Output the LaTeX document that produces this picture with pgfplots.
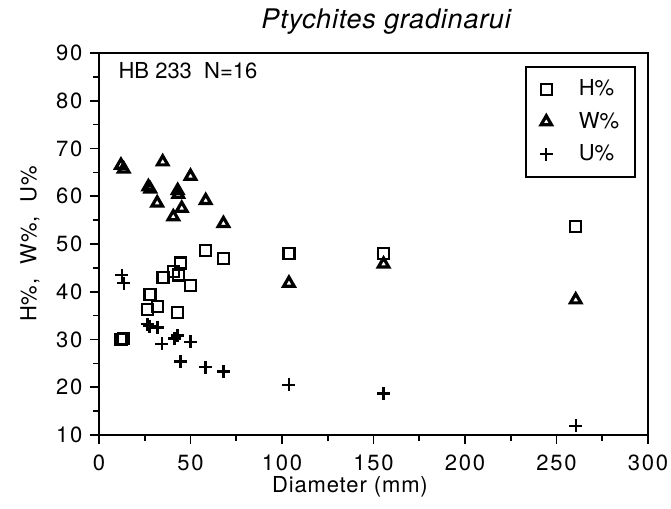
\documentclass[border=0pt]{standalone}
\usepackage{fontspec}
\setmainfont{TeX Gyre Heros}
\usepackage{pgfplots}
\pgfplotsset{compat=1.18}
\begin{document}
\fontsize{22}{26}\selectfont
\begin{tikzpicture}
\begin{axis}[
  scale only axis, width=549pt, height=382pt,
  xmin=0, xmax=300, ymin=10, ymax=90,
  xtick={0,50,...,300}, ytick={10,20,...,90},
  minor x tick num=1, minor y tick num=1,
  axis line style={line width=1.6pt},
  every tick/.style={line width=1.6pt, black},
  tick align=outside, tick pos=left,
  major tick length=9pt, minor tick length=6pt,
  /pgf/number format/assume math mode=true,
  ticklabel style={font=\fontsize{22}{26}\selectfont\addfontfeatures{LetterSpace=8}},
  xticklabel style={yshift=-3pt},
  clip=false,
  legend cell align=left,
  legend style={at={(0.978,0.966)}, anchor=north east, draw=black, line width=1.6pt,
    font=\fontsize{22}{26}\selectfont, inner xsep=14pt, inner ysep=11pt,
    row sep=9pt, /tikz/every odd column/.append style={column sep=24pt}},
]
\addplot[only marks, mark=square, mark size=5.5pt, mark options={line width=2.2pt, black}]
 coordinates {(12,30) (13.5,30.2) (26.4,36.3) (27.9,39.4) (32,36.9) (35,43) (40.5,44.3)
 (43,35.6) (43.5,43.5) (44.6,46) (50,41.3) (58,48.6) (68,47) (103.8,48) (155.5,48) (260.5,53.6)};
\addlegendentry{H\%}
\addplot[only marks, mark=triangle, mark size=6pt, mark options={line width=3.2pt, black, line join=miter}]
 coordinates {(12,66.5) (13.5,65.7) (27,62) (28,61.5) (31.8,58.6) (34.8,67.2) (40.6,55.7)
 (43,61.2) (43.3,60.4) (45.2,57.5) (50,64.2) (58.3,59.1) (68,54.3) (103.8,41.8) (155.5,45.8) (260.5,38.3)};
\addlegendentry{W\%}
\addplot[only marks, mark=+, mark size=6.5pt, mark options={line width=2.4pt, black}]
 coordinates {(12.5,43.5) (13.5,41.8) (26.4,33.2) (27.5,32.8) (32,32.5) (34.4,29.1) (41.2,30.2)
 (43,30.8) (44.6,25.4) (50,29.5) (58.3,24.2) (68,23.3) (103.8,20.5) (155.5,18.7) (260.5,11.9)};
\addlegendentry{U\%}
\node[anchor=west] at (rel axis cs:0.022,0.955) {HB 233\ \ N=16};
\node[font=\fontsize{27}{32}\selectfont\itshape\addfontfeatures{LetterSpace=3}] at ([yshift=31pt]rel axis cs:0.523,1) {Ptychites gradinarui};
\node[font=\fontsize{22}{26}\selectfont\addfontfeatures{LetterSpace=4}] at ([yshift=-52pt]rel axis cs:0.457,0) {Diameter (mm)};
\node[rotate=90, font=\fontsize{22}{26}\selectfont\addfontfeatures{LetterSpace=4}] at ([xshift=-69pt]rel axis cs:0,0.5) {H\%,\ \ W\%,\ \ U\%};
\coordinate (SW) at (rel axis cs:0,0);
\coordinate (NE) at (rel axis cs:1,1);
\end{axis}
\pgfresetboundingbox
\path[use as bounding box] (SW) ++(-99pt,-73pt) rectangle ([shift={(23pt,53pt)}]NE);
\end{tikzpicture}
\end{document}
